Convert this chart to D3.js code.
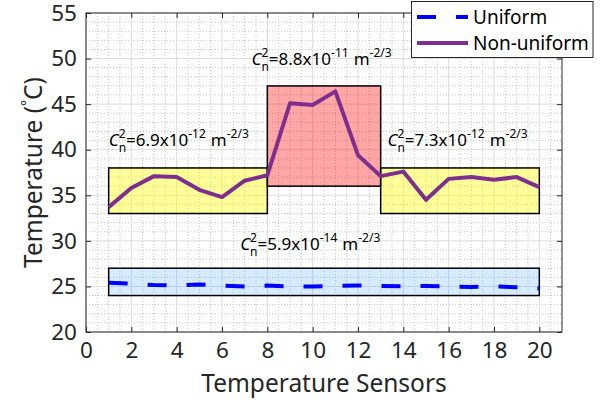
<!DOCTYPE html>
<html>
<head>
<meta charset="utf-8">
<script src="https://cdn.jsdelivr.net/npm/d3@7"></script>
<style>
  body { margin: 0; background: #fff; }
  svg { font-family: "Noto Sans", sans-serif; }
</style>
</head>
<body>
<svg id="chart" width="603" height="409"></svg>
<script>
// sensors 1..20
var sensors = d3.range(1, 21);
var uniformTemp = [25.4, 25.3, 25.15, 25.1, 25.2, 25.1, 25.0, 25.1, 25.0, 25.0,
                   25.05, 25.1, 25.05, 25.0, 25.05, 25.0, 24.95, 25.0, 24.9, 24.8];
var nonUniformTemp = [33.7, 35.8, 37.1, 37.0, 35.6, 34.8, 36.6, 37.2, 45.1, 44.9,
                      46.4, 39.4, 37.1, 37.6, 34.5, 36.8, 37.0, 36.7, 37.0, 35.9];
var xTicks = [0, 2, 4, 6, 8, 10, 12, 14, 16, 18, 20];
var yTicks = [20, 25, 30, 35, 40, 45, 50, 55];

// turbulence regions: x0, x1, y0, y1
var regions = [
  { x0: 1, x1: 8, y0: 33, y1: 38, fill: "#ffff00", op: 0.4 },
  { x0: 8, x1: 13, y0: 36, y1: 47, fill: "#ff0000", op: 0.35 },
  { x0: 13, x1: 20, y0: 33, y1: 38, fill: "#ffff00", op: 0.4 },
  { x0: 1, x1: 20, y0: 24, y1: 27, fill: "#3399ff", op: 0.2 }
];
var cn2Labels = [
  { x: 1.0, y: 40.4, mant: "6.9", exp: "-12" },
  { x: 7.3, y: 49.3, mant: "8.8", exp: "-11" },
  { x: 13.3, y: 40.4, mant: "7.3", exp: "-12" },
  { x: 6.8, y: 29.0, mant: "5.9", exp: "-14" }
];

var svg = d3.select("#chart");
var margin = { left: 86, top: 13, right: 41, bottom: 77 };
var W = 603 - margin.left - margin.right;
var H = 409 - margin.top - margin.bottom;
var axisCol = "#262626";

var x = d3.scaleLinear().domain([0, 21]).range([0, W]);
var y = d3.scaleLinear().domain([20, 55]).range([H, 0]);

var g = svg.append("g").attr("transform", "translate(" + margin.left + "," + margin.top + ")");

// minor grid (dotted)
var xMinor = d3.range(0.5, 21, 0.5).filter(function (v) { return v % 2 !== 0; });
var yMinor = d3.range(21, 55, 1).filter(function (v) { return v % 5 !== 0; });
g.append("g").selectAll("line").data(xMinor).join("line")
  .attr("x1", d => x(d)).attr("x2", d => x(d)).attr("y1", 0).attr("y2", H)
  .attr("stroke", "#c4c4c4").attr("stroke-dasharray", "1,2");
g.append("g").selectAll("line").data(yMinor).join("line")
  .attr("x1", 0).attr("x2", W).attr("y1", d => y(d)).attr("y2", d => y(d))
  .attr("stroke", "#c4c4c4").attr("stroke-dasharray", "1,2");

// major grid
g.append("g").selectAll("line").data(xTicks).join("line")
  .attr("x1", d => x(d)).attr("x2", d => x(d)).attr("y1", 0).attr("y2", H)
  .attr("stroke", "#dcdcdc");
g.append("g").selectAll("line").data(yTicks).join("line")
  .attr("x1", 0).attr("x2", W).attr("y1", d => y(d)).attr("y2", d => y(d))
  .attr("stroke", "#dcdcdc");

// region boxes
g.append("g").selectAll("rect").data(regions).join("rect")
  .attr("x", d => x(d.x0)).attr("y", d => y(d.y1))
  .attr("width", d => x(d.x1) - x(d.x0)).attr("height", d => y(d.y0) - y(d.y1))
  .attr("fill", d => d.fill).attr("fill-opacity", d => d.op)
  .attr("stroke", "#000").attr("stroke-width", 1.5);

// lines
var line = d3.line().x(d => x(d[0])).y(d => y(d[1]));
g.append("path")
  .datum(sensors.map((s, i) => [s, uniformTemp[i]]))
  .attr("d", line).attr("fill", "none")
  .attr("stroke", "#0000ff").attr("stroke-width", 4)
  .attr("stroke-dasharray", "19,20");
g.append("path")
  .datum(sensors.map((s, i) => [s, nonUniformTemp[i]]))
  .attr("d", line).attr("fill", "none")
  .attr("stroke", "#7e2f8e").attr("stroke-width", 4)
  .attr("stroke-linejoin", "round");

// Cn^2 annotations, laid out piece by piece
function piece(parent, px, py, txt, size, italic) {
  var t = parent.append("text").attr("x", px).attr("y", py)
    .attr("font-size", size).attr("fill", "#000").text(txt);
  if (italic) t.attr("font-style", "italic");
  return t.node().getComputedTextLength();
}
cn2Labels.forEach(function (d) {
  var a = g.append("g");
  var px = x(d.x), py = y(d.y);
  px += piece(a, px, py, "C", 17, true);
  var w2 = piece(a, px, py - 8, "2", 12);
  var wn = piece(a, px, py + 6, "n", 12);
  px += Math.max(w2, wn);
  px += piece(a, px, py, "=" + d.mant + "x10", 17);
  px += piece(a, px, py - 8, d.exp, 12);
  px += piece(a, px + 5, py, "m", 17) + 5;
  piece(a, px, py - 8, "-2/3", 12);
});

// axes box
g.append("rect").attr("width", W).attr("height", H)
  .attr("fill", "none").attr("stroke", axisCol).attr("stroke-width", 1);

g.append("g").attr("transform", "translate(0," + H + ")")
  .call(d3.axisBottom(x).tickValues(xTicks).tickSize(-5).tickPadding(10));
g.append("g")
  .call(d3.axisLeft(y).tickValues(yTicks).tickSize(-5).tickPadding(9));
g.append("g").call(d3.axisTop(x).tickValues(xTicks).tickSize(-5).tickFormat(""));
g.append("g").attr("transform", "translate(" + W + ",0)")
  .call(d3.axisRight(y).tickValues(yTicks).tickSize(-5).tickFormat(""));
g.selectAll(".domain").remove();
g.selectAll(".tick line").attr("stroke", axisCol);
g.selectAll(".tick text").attr("fill", axisCol).attr("font-size", 22.5)
  .attr("font-family", "Noto Sans");

// axis titles
svg.append("text").attr("x", margin.left + W / 2).attr("y", 392)
  .attr("text-anchor", "middle").attr("font-size", 24.5).attr("fill", axisCol)
  .text("Temperature Sensors");
var yl = svg.append("text")
  .attr("transform", "translate(42," + (margin.top + H / 2) + ") rotate(-90)")
  .attr("text-anchor", "middle").attr("font-size", 24.5).attr("fill", axisCol);
yl.append("tspan").text("Temperature (");
yl.append("tspan").attr("font-size", 14).attr("dy", -10).text("°");
yl.append("tspan").attr("dy", 10).text("C)");

// legend
var leg = svg.append("g");
leg.append("rect").attr("x", 411.5).attr("y", 1.5).attr("width", 181.5).attr("height", 56)
  .attr("fill", "#fff").attr("stroke", axisCol).attr("stroke-width", 1);
var legItems = [
  { name: "Uniform", color: "#0000ff", dash: "19,20" },
  { name: "Non-uniform", color: "#7e2f8e", dash: null }
];
legItems.forEach(function (d, i) {
  var cy = 17 + i * 26;
  leg.append("line").attr("x1", 417).attr("x2", 468).attr("y1", cy).attr("y2", cy)
    .attr("stroke", d.color).attr("stroke-width", 4)
    .attr("stroke-dasharray", d.dash);
  leg.append("text").attr("x", 473).attr("y", cy + 7).attr("font-size", 19)
    .attr("fill", "#000").text(d.name);
});
</script>
</body>
</html>
